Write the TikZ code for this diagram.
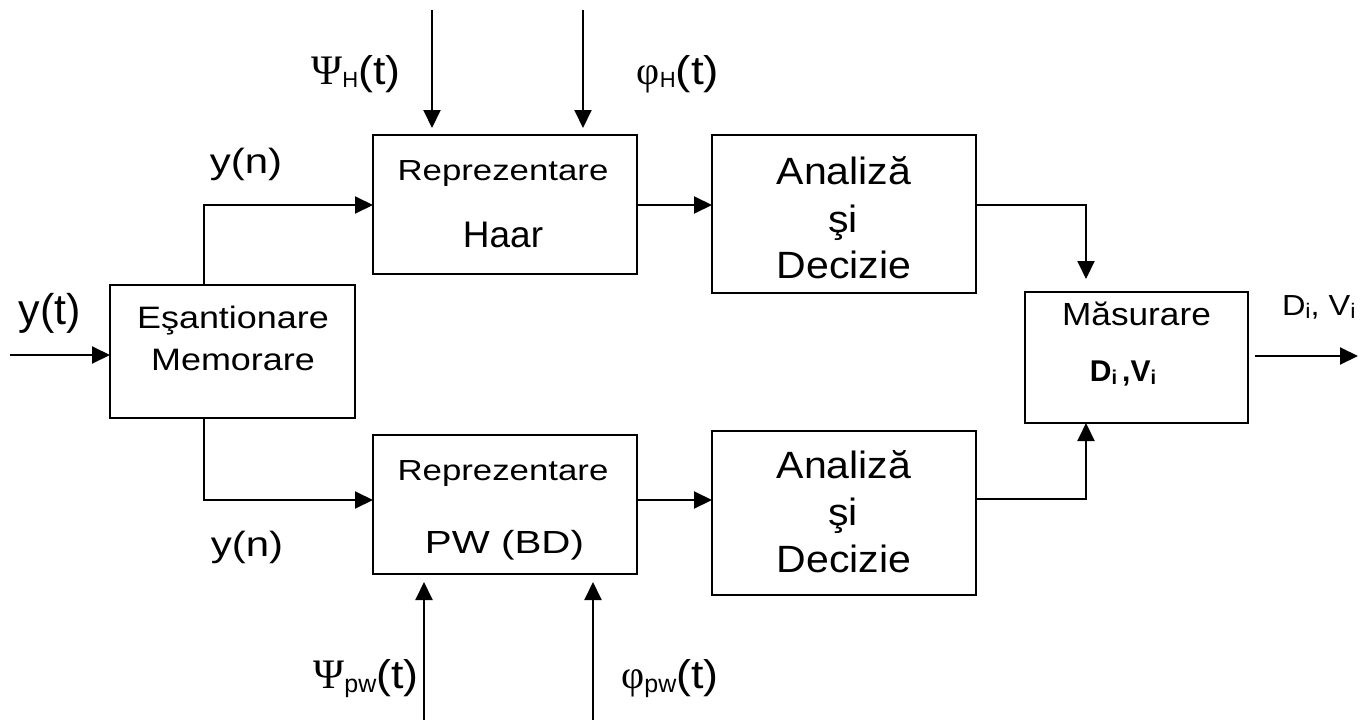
\documentclass[tikz,border=0pt]{standalone}
\usepackage{fontspec}
\usepackage{graphicx}
\setmainfont{Liberation Sans}
\newfontfamily\greekfont{Liberation Serif}
\usetikzlibrary{arrows.meta}

% text at a given size, stretched horizontally
\newcommand\tx[3]{{\fontsize{#1}{#1}\selectfont\scalebox{#2}[1]{#3}}}
% lowered subscript: size, drop, text
\newcommand\lowsub[3]{\raisebox{-#2}{\fontsize{#1}{#1}\selectfont #3}}
% upright Greek letter from the serif family
\newcommand\gk[2]{{\greekfont\fontsize{#1}{#1}\selectfont #2}}

\tikzset{
  blk/.style={draw, line width=2.2pt, inner sep=0pt, outer sep=0pt, fill=white},
  txt/.style={inner sep=0pt, outer sep=0pt, anchor=base},
  arr/.style={line width=2pt, -{Triangle[length=18pt,width=17pt]}},
}

\begin{document}
\begin{tikzpicture}[x=1pt,y=-1pt]
\useasboundingbox (0,0) rectangle (1371,720);

% blocks
\node[blk, minimum width=245pt, minimum height=133pt] (mem)  at (232.5,351.5) {};
\node[blk, minimum width=264pt, minimum height=139pt] (haar) at (505,204.5) {};
\node[blk, minimum width=264pt, minimum height=139pt] (pw)   at (505,504.5) {};
\node[blk, minimum width=264pt, minimum height=158pt] (anT)  at (844,214) {};
\node[blk, minimum width=264pt, minimum height=164pt] (anB)  at (844,513) {};
\node[blk, minimum width=223pt, minimum height=131pt] (mas)  at (1136.5,357.5) {};

% block texts
\node[txt] (memA) at (233,328) {\tx{31}{1.16}{Eşantionare}};
\node[txt] (memB) at (233,370) {\tx{31}{1.16}{Memorare}};

\node[txt] (haarA) at (503,180) {\tx{29}{1.2}{Reprezentare}};
\node[txt] (haarB) at (503,247) {\tx{37}{1.0}{Haar}};

\node[txt] (pwA) at (503,480) {\tx{29}{1.2}{Reprezentare}};
\node[txt] (pwB) at (504.5,553) {\tx{32}{1.26}{PW (BD)}};

\node[txt] (anTA) at (844,184) {\tx{38}{1.08}{Analiză}};
\node[txt] (anTB) at (843,232) {\tx{38}{1.08}{şi}};
\node[txt] (anTC) at (844,278) {\tx{38}{1.08}{Decizie}};

\node[txt] (anBA) at (844,478) {\tx{38}{1.08}{Analiză}};
\node[txt] (anBB) at (843,525) {\tx{38}{1.08}{şi}};
\node[txt] (anBC) at (844,572) {\tx{38}{1.08}{Decizie}};

\node[txt] (masA) at (1136.5,325) {\tx{32}{1.1}{Măsurare}};
\node[txt] (masB) at (1123,381) {\fontsize{30}{30}\selectfont\bfseries D\lowsub{20}{3pt}{i}\,,V\lowsub{20}{3pt}{i}};

% signal labels
\node[txt] (lyt) at (50,324) {\tx{43}{1.0}{y(t)}};
\node[txt] (lynT) at (246,173) {\tx{35}{1.2}{y(n)}};
\node[txt] (lynB) at (247,556) {\tx{35}{1.2}{y(n)}};
\node[txt] (lpsiH) at (356,84) {\gk{42}{Ψ}\lowsub{22}{3pt}{H}\tx{40}{1.12}{(t)}};
\node[txt] (lphiH) at (678,84) {\gk{40}{φ}\lowsub{22}{3pt}{H}\tx{40}{1.15}{(t)}};
\node[txt] (lpsiP) at (366,688) {\gk{42}{Ψ}\lowsub{25}{4pt}{pw}\tx{40}{1.12}{(t)}};
\node[txt] (lphiP) at (670,688) {\gk{40}{φ}\lowsub{25}{4pt}{pw}\tx{40}{1.12}{(t)}};
\node[txt, anchor=base west] (lout) at (1282,315) {\scalebox{1.12}[1]{\fontsize{29}{29}\selectfont D\lowsub{21}{3pt}{i}, V\lowsub{21}{3pt}{i}}};

% connector end points
\coordinate (in)     at (10,355);
\coordinate (splitT) at (204,205);
\coordinate (splitB) at (204,500);
\coordinate (jT)     at (1086,205);
\coordinate (jB)     at (1086,499);
\coordinate (out)    at (1358,356);
\coordinate (psiH)   at (432,10);
\coordinate (phiH)   at (583,10);
\coordinate (psiP)   at (424,720);
\coordinate (phiP)   at (593,720);

% connectors
\draw[arr] (in) -- (in -| mem.west);
\draw[arr] (mem.north -| splitT) -- (splitT) -- (splitT -| haar.west);
\draw[arr] (mem.south -| splitB) -- (splitB) -- (splitB -| pw.west);
\draw[arr] (haar.east |- splitT) -- (anT.west |- splitT);
\draw[arr] (pw.east |- splitB) -- (anB.west |- splitB);
\draw[arr, shorten >=13pt] (anT.east |- jT) -- (jT) -- (jT |- mas.north);
\draw[arr] (anB.east |- jB) -- (jB) -- (jB |- mas.south);
\draw[arr, shorten <=7pt] (mas.east |- out) -- (out);
\draw[arr, shorten >=7pt] (psiH) -- (psiH |- haar.north);
\draw[arr, shorten >=7pt] (phiH) -- (phiH |- haar.north);
\draw[arr, shorten >=8pt] (psiP) -- (psiP |- pw.south);
\draw[arr, shorten >=8pt] (phiP) -- (phiP |- pw.south);
\end{tikzpicture}
\end{document}
